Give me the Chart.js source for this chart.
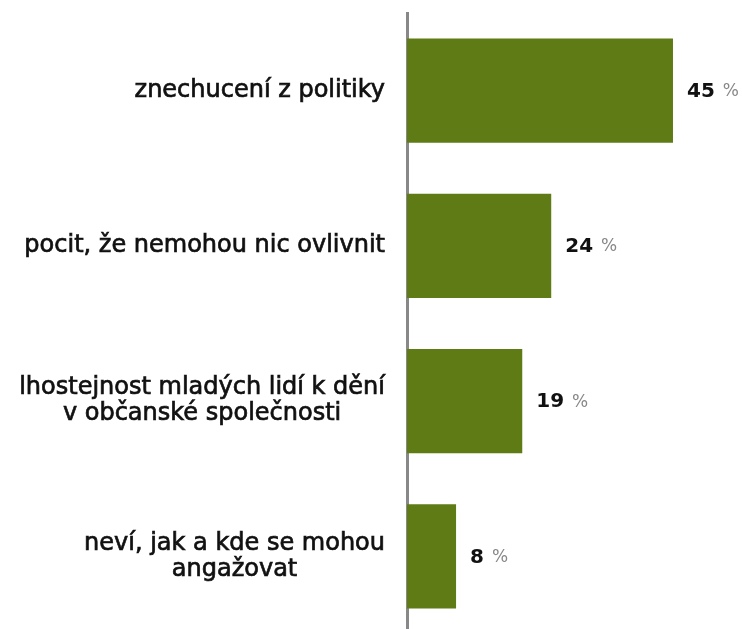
<!DOCTYPE html>
<html>
<head>
<meta charset="utf-8">
<script src="https://cdn.jsdelivr.net/npm/chart.js@4/dist/chart.umd.min.js"></script>
<style>
  html, body { margin: 0; padding: 0; background: #fff; overflow: hidden; }
  #wrap { width: 742px; height: 640px; }
</style>
</head>
<body>
<div id="wrap"><canvas id="chart"></canvas></div>
<script>
const categories = [
    ['znechucení z politiky'],
    ['pocit, že nemohou nic ovlivnit'],
    ['lhostejnost mladých lidí k dění', 'v občanské společnosti'],
    ['neví, jak a kde se mohou', 'angažovat'],
];
const values = [45, 24.4, 19.5, 8.3];
const valueLabels = ['45', '24', '19', '8'];

// category labels: block right-aligned to the axis, lines centred inside it
const categoryLabelPlugin = {
    id: 'categoryLabels',
    afterDraw(chart) {
        const ctx = chart.ctx;
        const yScale = chart.scales.y;
        const lineGap = 26;
        ctx.save();
        ctx.font = '24px "DejaVu Sans"';
        ctx.fillStyle = '#111';
        ctx.strokeStyle = '#111';
        ctx.lineWidth = 0.7;
        ctx.textAlign = 'center';
        ctx.textBaseline = 'middle';
        categories.forEach((lines, i) => {
            const y = yScale.getPixelForTick(i);
            const maxW = Math.max(...lines.map(l => ctx.measureText(l).width));
            const cx = yScale.right - 22 - maxW / 2;
            const y0 = y - (lines.length - 1) * lineGap / 2;
            lines.forEach((line, j) => {
                ctx.fillText(line, cx, y0 + j * lineGap);
                ctx.strokeText(line, cx, y0 + j * lineGap);
            });
        });
        ctx.restore();
    }
};

const valueLabelPlugin = {
    id: 'valueLabels',
    afterDatasetsDraw(chart) {
        const ctx = chart.ctx;
        const meta = chart.getDatasetMeta(0);
        ctx.save();
        ctx.textBaseline = 'middle';
        meta.data.forEach((bar, i) => {
            let x = bar.x + 14;
            ctx.font = 'bold 20px "DejaVu Sans"';
            ctx.fillStyle = '#111';
            ctx.fillText(valueLabels[i], x, bar.y + 1);
            x += ctx.measureText(valueLabels[i]).width + 8;
            ctx.font = '17px "DejaVu Sans"';
            ctx.fillStyle = '#888';
            ctx.fillText('%', x, bar.y + 1);
        });
        ctx.restore();
    }
};

new Chart(document.getElementById('chart'), {
    type: 'bar',
    data: {
        labels: categories,
        datasets: [{
            data: values,
            backgroundColor: '#5e7b15',
            barPercentage: 0.67,
            categoryPercentage: 1,
        }],
    },
    options: {
        indexAxis: 'y',
        responsive: true,
        maintainAspectRatio: false,
        animation: false,
        layout: { padding: { top: 13, right: 4, bottom: 6 } },
        plugins: {
            legend: { display: false },
            tooltip: { enabled: false },
        },
        scales: {
            x: {
                display: false,
                min: 0,
                max: 56,
            },
            y: {
                afterFit(axis) {
                    axis.width = 407;
                    axis.paddingTop = 0;
                    axis.paddingBottom = 0;
                },
                grid: { display: false, drawTicks: false },
                border: { color: '#888', width: 3 },
                ticks: { display: false },
            },
        },
    },
    plugins: [categoryLabelPlugin, valueLabelPlugin],
});
</script>
</body>
</html>
